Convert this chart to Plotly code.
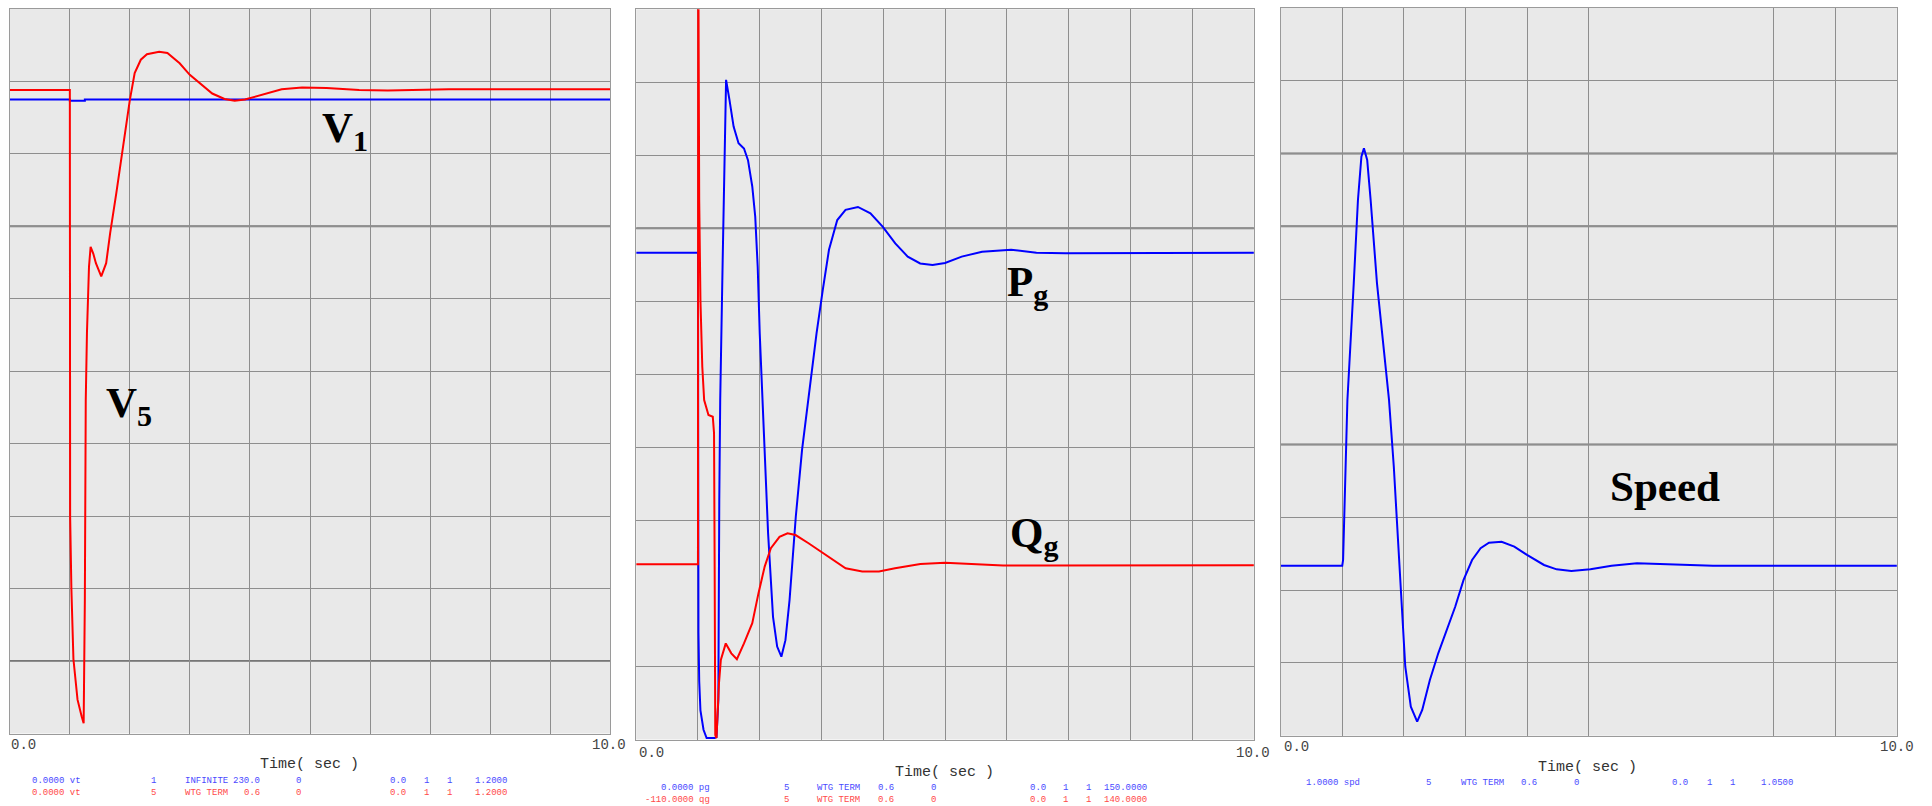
import plotly.graph_objects as go

W, H = 1932, 806

# ---------------- data ----------------
# Panel 1 : terminal voltages (pu)
T_V1 = [0.0, 1.0, 1.0, 1.25, 1.25, 10.0]
V1 = [1.05, 1.05, 1.048, 1.048, 1.05, 1.05]

T_V5 = [0.0, 1.0, 1.005, 1.026, 1.06, 1.128, 1.197, 1.23, 1.25, 1.258, 1.265, 1.285,
        1.299, 1.319, 1.346, 1.39, 1.434, 1.523, 1.605, 1.672, 1.774, 1.876, 1.944,
        1.999, 2.08, 2.182, 2.284, 2.488, 2.625, 2.829, 2.998, 3.168, 3.372, 3.576,
        3.746, 3.916, 4.187, 4.528, 4.868, 5.276, 5.819, 6.296, 7.316, 10.0]
V5 = [1.066, 1.066, 0.36, 0.239, 0.123, 0.056, 0.028, 0.017, 0.221, 0.47, 0.552, 0.663,
      0.718, 0.773, 0.806, 0.795, 0.779, 0.757, 0.779, 0.829, 0.895, 0.966, 1.016,
      1.049, 1.094, 1.116, 1.125, 1.129, 1.127, 1.110, 1.091, 1.077, 1.060, 1.051,
      1.048, 1.050, 1.058, 1.067, 1.070, 1.069, 1.066, 1.065, 1.067, 1.067]

# Panel 2 : generator active (MW) and reactive (Mvar) power
T_PG = [0.0, 1.0, 1.008, 1.02, 1.04, 1.09, 1.14, 1.27, 1.30, 1.33, 1.345, 1.36, 1.40,
        1.42, 1.455, 1.51, 1.577, 1.657, 1.745, 1.81, 1.879, 1.927, 1.967, 2.0, 2.034,
        2.081, 2.135, 2.215, 2.282, 2.35, 2.416, 2.483, 2.584, 2.685, 2.785, 2.919,
        3.02, 3.121, 3.255, 3.389, 3.59, 3.792, 3.993, 4.194, 4.396, 4.597, 4.798,
        5.0, 5.27, 5.6, 6.07, 6.48, 6.95, 10.0]
PG = [100.0, 100.0, 22.0, 12.0, 6.0, 2.0, 0.3, 0.3, 0.5, 8.1, 49.2, 69.7, 98.5,
      110.8, 135.5, 131.4, 125.9, 122.5, 121.4, 119.0, 113.6, 107.4, 97.1, 83.4, 73.2,
      59.5, 42.4, 25.2, 19.1, 17.0, 20.4, 28.7, 45.8, 59.5, 69.7, 83.4,
      92.3, 100.6, 106.7, 108.8, 109.4, 108.1, 105.3, 101.9, 99.2, 97.8, 97.5,
      97.9, 99.2, 100.2, 100.6, 100.0, 99.9, 100.0]

T_QG = [0.0, 1.0, 1.004, 1.01, 1.02, 1.04, 1.07, 1.10, 1.14, 1.17, 1.24, 1.26, 1.27,
        1.275, 1.28, 1.30, 1.34, 1.37, 1.45, 1.54, 1.63, 1.745, 1.879, 1.98, 2.08,
        2.18, 2.32, 2.45, 2.58, 2.79, 2.99, 3.19, 3.39, 3.66, 3.93, 4.19, 4.6, 5.0,
        5.4, 5.94, 6.61, 10.0]
QG = [-50.0, -50.0, 170.0, 118.2, 74.7, 40.5, 17.6, 6.2, 2.8, 1.1, 0.5, -5.1, -50.8,
      -96.5, -108.5, -109.5, -90.8, -82.8, -77.1, -80.5, -82.5, -77.1, -70.2, -59.9, -50.8,
      -44.5, -40.6, -39.4, -40.0, -42.8, -45.7, -48.5, -51.4, -52.5, -52.5, -51.4, -49.9, -49.5,
      -49.9, -50.4, -50.4, -50.3]

# Panel 3 : rotor speed (pu)
T_SPD = [0.0, 1.0, 1.014, 1.049, 1.084, 1.187, 1.255, 1.311, 1.352, 1.405, 1.461, 1.564,
         1.667, 1.759, 1.837, 1.907, 1.975, 2.023, 2.113, 2.216, 2.298, 2.422, 2.558,
         2.695, 2.833, 2.969, 3.107, 3.245, 3.381, 3.586, 3.792, 3.998, 4.274, 4.479,
         4.718, 5.027, 5.37, 5.782, 6.261, 7.016, 10.0]
SPD = [1.01168, 1.01168, 1.01207, 1.01848, 1.02307, 1.03108, 1.03681, 1.03978, 1.04036,
       1.03956, 1.03681, 1.03108, 1.02696, 1.02307, 1.01848, 1.01322, 1.00818, 1.00474,
       1.00199, 1.00096, 1.00177, 1.00383, 1.00566, 1.00726, 1.00886, 1.0107, 1.01207,
       1.01288, 1.01326, 1.01333, 1.01299, 1.01242, 1.01173, 1.01143, 1.01132, 1.01143,
       1.01168, 1.01185, 1.0118, 1.01168, 1.01168]

# axes
T_RANGE = [0.0, 10.0]
X_TICK_TEXT = ["0.0", "10.0"]
X_TITLE = "Time( sec )"
X_GRID_1 = [0, 1, 2, 3, 4, 5, 6, 7, 8, 9, 10]
X_GRID_3 = [0, 1, 2, 3, 4, 5, 8, 9, 10]
V_RANGE = [0.0, 1.2]
V_GRID = [0.0, 0.12, 0.24, 0.36, 0.48, 0.6, 0.72, 0.84, 0.96, 1.08, 1.2]
PG_RANGE = [0.0, 150.0]
PG_GRID = [0, 15, 45, 60, 75, 90, 105, 120, 135, 150]
QG_RANGE = [-110.0, 140.0]
SPD_RANGE = [1.0, 1.05]
SPD_GRID = [1.0, 1.005, 1.01, 1.015, 1.02, 1.025, 1.03, 1.035, 1.04, 1.045, 1.05]

# channel description rows under each plot
ROWS_P1 = [["0.0000 vt", "1", "INFINITE", "230.0", "0", "0.0", "1", "1", "1.2000"],
           ["0.0000 vt", "5", "WTG TERM", "0.6", "0", "0.0", "1", "1", "1.2000"]]
ROWS_P2 = [["0.0000 pg", "5", "WTG TERM", "0.6", "0", "0.0", "1", "1", "150.0000"],
           ["-110.0000 qg", "5", "WTG TERM", "0.6", "0", "0.0", "1", "1", "140.0000"]]
ROWS_P3 = [["1.0000 spd", "5", "WTG TERM", "0.6", "0", "0.0", "1", "1", "1.0500"]]

LABELS = ["V<sub>1</sub>", "V<sub>5</sub>", "P<sub>g</sub>", "Q<sub>g</sub>", "Speed"]

# ---------------- style / layout ----------------
BLUE = "#0000FF"
RED = "#FF0000"
LBLUE = "#4a4aff"
LRED = "#ff4a4a"
GRID = "#8e8e8e"
DARK = "#777777"
BG = "#E9E9E9"
FRAME = "#9a9a9a"


def fx(px):
    return px / W


def fy(py):
    return 1 - py / H


DOM = {
    1: dict(x=[fx(9.8), fx(610.2)], y=[fy(733.5), fy(9)]),
    2: dict(x=[fx(636.2), fx(1253.9)], y=[fy(739.5), fy(9.3)]),
    3: dict(x=[fx(1280.6), fx(1896.9)], y=[fy(735.7), fy(8)]),
}

fig = go.Figure()
fig.add_trace(go.Scatter(x=T_V1, y=V1, mode="lines", line=dict(color=BLUE, width=2),
                         xaxis="x", yaxis="y", showlegend=False))
fig.add_trace(go.Scatter(x=T_V5, y=V5, mode="lines", line=dict(color=RED, width=2),
                         xaxis="x", yaxis="y", showlegend=False))
fig.add_trace(go.Scatter(x=T_PG, y=PG, mode="lines", line=dict(color=BLUE, width=2),
                         xaxis="x2", yaxis="y2", showlegend=False))
fig.add_trace(go.Scatter(x=T_QG, y=QG, mode="lines", line=dict(color=RED, width=2),
                         xaxis="x2", yaxis="y3", showlegend=False))
fig.add_trace(go.Scatter(x=T_SPD, y=SPD, mode="lines", line=dict(color=BLUE, width=2),
                         xaxis="x3", yaxis="y4", showlegend=False))

common = dict(showticklabels=False, ticks="", zeroline=False, showline=True, mirror=True,
              linecolor=FRAME, linewidth=1, gridcolor=GRID, gridwidth=1, showgrid=True,
              tickmode="array")

fig.update_layout(
    width=W, height=H, margin=dict(l=0, r=0, t=0, b=0),
    paper_bgcolor="white", plot_bgcolor=BG, showlegend=False,
    xaxis=dict(domain=DOM[1]["x"], range=T_RANGE, anchor="y", tickvals=X_GRID_1, **common),
    yaxis=dict(domain=DOM[1]["y"], range=V_RANGE, anchor="x", tickvals=V_GRID, **common),
    xaxis2=dict(domain=DOM[2]["x"], range=T_RANGE, anchor="y2", tickvals=X_GRID_1, **common),
    yaxis2=dict(domain=DOM[2]["y"], range=PG_RANGE, anchor="x2", tickvals=PG_GRID, **common),
    yaxis3=dict(range=QG_RANGE, overlaying="y2", anchor="x2", showgrid=False,
                showticklabels=False, ticks="", zeroline=False, showline=False),
    xaxis3=dict(domain=DOM[3]["x"], range=T_RANGE, anchor="y4", tickvals=X_GRID_3, **common),
    yaxis4=dict(domain=DOM[3]["y"], range=SPD_RANGE, anchor="x3", tickvals=SPD_GRID, **common),
)

# slightly heavier grid lines as seen in the reference
dark_lines = [("y", V_GRID[7]), ("y", V_GRID[1]), ("y2", PG_GRID[6]),
              ("y4", SPD_GRID[8]), ("y4", SPD_GRID[7]), ("y4", SPD_GRID[4])]
xref_for = {"y": "x", "y2": "x2", "y4": "x3"}
for yr, val in dark_lines:
    fig.add_shape(type="line", xref=xref_for[yr] + " domain", yref=yr, x0=0, x1=1, y0=val, y1=val,
                  line=dict(color=DARK, width=2), layer="below")

ann = []
MONO = "Liberation Mono, Courier New, monospace"
SERIF = "Liberation Serif, Times New Roman, serif"

# x tick labels and titles: (tick y, left label x, right label centre x, title x, title y)
tick_pos = [(745, 10.2, 609.2, 309.2, 764),
            (752.5, 638, 1253, 944, 772),
            (747, 1282.7, 1897, 1587.5, 767.5)]
for ty, lx, rx, tx, tty in tick_pos:
    ann.append(dict(xref="paper", yref="paper", x=fx(lx), y=fy(ty), xanchor="left",
                    yanchor="middle", text=X_TICK_TEXT[0], showarrow=False, borderpad=0,
                    font=dict(family=MONO, size=14, color="#444444")))
    ann.append(dict(xref="paper", yref="paper", x=fx(rx), y=fy(ty), xanchor="center",
                    yanchor="middle", text=X_TICK_TEXT[1], showarrow=False, borderpad=0,
                    font=dict(family=MONO, size=14, color="#444444")))
    ann.append(dict(xref="paper", yref="paper", x=fx(tx), y=fy(tty), xanchor="center",
                    yanchor="middle", text=X_TITLE, showarrow=False, borderpad=0,
                    font=dict(family=MONO, size=15, color="#333333")))

# channel rows
anchors = ["right", "center", "left", "right", "center", "center", "center", "center", "right"]
COLS_P1 = [81.6, 153, 183.7, 261.2, 298, 398, 426.5, 449, 508.2]
COLS_P2 = [711.4, 786.1, 815.5, 895.1, 933, 1038, 1065.7, 1088.2, 1148.2]
COLS_P3 = [1360.8, 1428.3, 1460, 1538.1, 1576.1, 1679.5, 1709.1, 1732.3, 1793.5]
for rows, cols, ys, colors in [(ROWS_P1, COLS_P1, [781, 793], [LBLUE, LRED]),
                               (ROWS_P2, COLS_P2, [788, 800], [LBLUE, LRED]),
                               (ROWS_P3, COLS_P3, [783], [LBLUE])]:
    for row, yy, cc in zip(rows, ys, colors):
        for txt, xx, an in zip(row, cols, anchors):
            ann.append(dict(xref="paper", yref="paper", x=fx(xx), y=fy(yy), xanchor=an,
                            yanchor="middle", text=txt, showarrow=False, borderpad=0,
                            font=dict(family=MONO, size=9, color=cc)))

# curve labels (left edge, box top)
label_pos = [(320.4, 102.2), (104.1, 377.2), (1005.2, 255.9), (1008, 507.2), (1607.8, 460.9)]
for txt, (lx, ty) in zip(LABELS, label_pos):
    ann.append(dict(xref="paper", yref="paper", x=fx(lx), y=fy(ty), xanchor="left",
                    yanchor="top", text="<b>" + txt + "</b>", showarrow=False,
                    font=dict(family=SERIF, size=43, color="black")))

fig.update_layout(annotations=ann)
fig.write_html("out.html")
